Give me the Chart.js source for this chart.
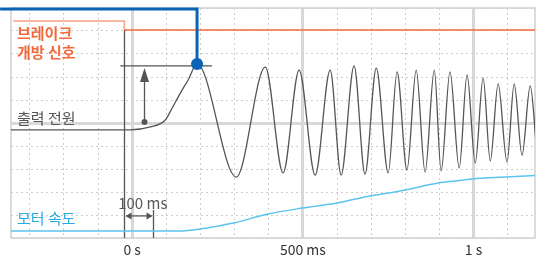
<!DOCTYPE html>
<html>
<head>
<meta charset="utf-8">
<script src="https://cdn.jsdelivr.net/npm/chart.js@4.4.1/dist/chart.umd.min.js"></script>
<style>
  html, body { margin: 0; padding: 0; background: #fff; }
</style>
</head>
<body>
<canvas id="chart" width="541" height="255"></canvas>
<script>
// time in ms, values in grid units (-5 .. 5)
const outputTimes = [-355, -6, 53, 97, 117, 141, 164, 190, 305, 390, 442, 489, 536, 580, 612, 650, 682, 715, 750, 776, 805, 832, 858, 885, 905, 931, 958, 981, 1005, 1028, 1049, 1072, 1098, 1119, 1142, 1166, 1186];
const outputValues = [-0.30, -0.30, -0.17, 0.13, 0.65, 1.30, 1.87, 2.57, -2.35, 2.43, -2.17, 2.30, -2.26, 2.30, -2.26, 2.48, -2.22, 2.39, -2.17, 2.22, -2.04, 2.30, -2.13, 2.30, -2.09, 2.22, -1.96, 2.09, -1.74, 1.96, -1.65, 1.70, -1.70, 1.70, -1.40, 1.61, -1.43];

const speedTimes = [-355, 60, 140, 200, 296, 398, 498, 600, 668, 800, 896, 946, 996, 1093, 1180];
const speedValues = [-4.70, -4.70, -4.70, -4.61, -4.35, -3.96, -3.70, -3.48, -3.26, -2.91, -2.61, -2.52, -2.43, -2.35, -2.28];

const brakeTimes = [-349, -23, -23, 1180];
const brakeValues = [4.43, 4.43, 4.04, 4.04];

const enableTimes = [-387, 190, 190];
const enableValues = [4.96, 4.96, 2.57];

const gridTicks = [-300, -200, -100, 0, 100, 200, 300, 400, 500, 600, 700, 800, 900, 1000, 1100];
const tickLabels = { 0: "0 s", 500: "500 ms", 1000: "1 s" };

// annotation values
const triggerTime = -23;
const delayEnd = 62;
const delayArrowValue = -4.04;
const delayTickTop = -3.78;
const delayTextValue = -3.48;
const refLine = [-35, 234];
const refValue = 2.48;
const ampTime = 35;
const ampBase = 0.04;

const toPoints = (xs, ys) => xs.map((x, i) => ({ x, y: ys[i] }));

const font = "'Noto Sans CJK KR', 'Noto Sans', sans-serif";

const isMajorX = (v) => v % 500 === 0;

const line = (ctx, x1, y1, x2, y2) => {
  ctx.beginPath();
  ctx.moveTo(x1, y1);
  ctx.lineTo(x2, y2);
  ctx.stroke();
};

const tri = (ctx, pts) => {
  ctx.beginPath();
  ctx.moveTo(pts[0], pts[1]);
  ctx.lineTo(pts[2], pts[3]);
  ctx.lineTo(pts[4], pts[5]);
  ctx.closePath();
  ctx.fill();
};

const overlay = {
  id: "overlay",
  beforeDatasetsDraw(chart) {
    const { ctx, chartArea: a, scales: { x, y } } = chart;
    ctx.save();
    // frame
    ctx.strokeStyle = "#d0d0d0";
    ctx.lineWidth = 1.5;
    ctx.strokeRect(a.left, a.top, a.right - a.left, a.bottom - a.top);

    ctx.strokeStyle = "#555";
    ctx.fillStyle = "#555";
    ctx.lineWidth = 1.3;

    // brake release moment
    const tx = Math.round(x.getPixelForValue(triggerTime)) + 0.5;
    line(ctx, tx, y.getPixelForValue(brakeValues[2]), tx, a.bottom);

    // 100 ms delay
    const dx = Math.round(x.getPixelForValue(delayEnd)) + 0.5;
    line(ctx, dx, y.getPixelForValue(delayTickTop), dx, a.bottom);
    const ay = y.getPixelForValue(delayArrowValue);
    line(ctx, tx + 2, ay, dx - 2, ay);
    tri(ctx, [tx + 1, ay, tx + 7, ay - 3.5, tx + 7, ay + 3.5]);
    tri(ctx, [dx - 1, ay, dx - 7, ay - 3.5, dx - 7, ay + 3.5]);

    // peak reference line
    const ry = y.getPixelForValue(refValue);
    line(ctx, x.getPixelForValue(refLine[0]), ry, x.getPixelForValue(refLine[1]), ry);

    // amplitude arrow
    const mx = Math.round(x.getPixelForValue(ampTime)) + 0.5;
    const by = y.getPixelForValue(ampBase);
    line(ctx, mx, by, mx, ry + 12);
    tri(ctx, [mx, ry + 2, mx - 4.5, ry + 16, mx + 4.5, ry + 16]);
    ctx.beginPath();
    ctx.arc(mx, by, 3, 0, Math.PI * 2);
    ctx.fill();
    ctx.restore();
  },
  afterDatasetsDraw(chart) {
    const { ctx, chartArea: a, scales: { x, y } } = chart;
    ctx.save();
    ctx.textBaseline = "middle";
    ctx.textAlign = "left";
    const lx = a.left + 6;

    ctx.fillStyle = "#f26a3a";
    ctx.font = "bold 15px " + font;
    ctx.fillText("브레이크", lx, 33);
    ctx.fillText("개방 신호", lx, 52);

    ctx.fillStyle = "#555";
    ctx.font = "15px " + font;
    ctx.fillText("출력 전원", lx, 118);

    ctx.fillStyle = "#29abe2";
    ctx.fillText("모터 속도", lx, 218);

    ctx.fillStyle = "#555";
    ctx.textAlign = "center";
    ctx.fillText("100 ms", (x.getPixelForValue(triggerTime) + x.getPixelForValue(delayEnd)) / 2 + 4, y.getPixelForValue(delayTextValue));
    ctx.restore();
  }
};

new Chart(document.getElementById("chart"), {
  type: "line",
  data: {
    datasets: [
      {
        label: "enable",
        data: toPoints(enableTimes, enableValues),
        borderColor: "#0b63b5",
        backgroundColor: "#0b63b5",
        borderWidth: 3,
        tension: 0,
        clip: false,
        pointRadius: (c) => (c.dataIndex === enableTimes.length - 1 ? 6 : 0),
        pointBorderWidth: 0
      },
      {
        label: "브레이크 개방 신호",
        data: toPoints(brakeTimes, brakeValues),
        borderWidth: 1.5,
        tension: 0,
        pointRadius: 0,
        borderColor: "#f26a3a",
        segment: {
          borderColor: (c) => (c.p0DataIndex < 2 ? "#f6a383" : "#f26a3a")
        }
      },
      {
        label: "출력 전원",
        data: toPoints(outputTimes, outputValues),
        borderColor: "#555",
        borderWidth: 1.3,
        cubicInterpolationMode: "monotone",
        pointRadius: 0
      },
      {
        label: "모터 속도",
        data: toPoints(speedTimes, speedValues),
        borderColor: "#5cc3ee",
        borderWidth: 1.5,
        cubicInterpolationMode: "monotone",
        pointRadius: 0
      }
    ]
  },
  options: {
    responsive: false,
    animation: false,
    layout: { padding: { left: 11, top: 8, right: 6, bottom: 0 } },
    plugins: { legend: { display: false }, tooltip: { enabled: false } },
    scales: {
      x: {
        type: "linear",
        min: -355,
        max: 1180,
        afterBuildTicks: (s) => { s.ticks = gridTicks.map((v) => ({ value: v })); },
        afterFit: (s) => { s.height = 17; },
        ticks: {
          autoSkip: false,
          maxRotation: 0,
          padding: 3,
          color: "#333",
          font: { family: font, size: 14 },
          callback: (v) => tickLabels[v] || ""
        },
        grid: {
          drawTicks: false,
          color: (c) => (c.tick && isMajorX(c.tick.value) ? "#d8d8d8" : "#cdcdcd"),
          lineWidth: (c) => (c.tick && isMajorX(c.tick.value) ? 3 : 1)
        },
        border: {
          display: false,
          dash: (c) => (c.tick && !isMajorX(c.tick.value) ? [2, 3] : [])
        }
      },
      y: {
        min: -5,
        max: 5,
        afterFit: (s) => { s.width = 0; },
        ticks: { display: false, stepSize: 1 },
        grid: {
          drawTicks: false,
          color: (c) => (c.tick && c.tick.value === 0 ? "#d8d8d8" : "#cdcdcd"),
          lineWidth: (c) => (c.tick && c.tick.value === 0 ? 3 : 1)
        },
        border: {
          display: false,
          dash: (c) => (c.tick && c.tick.value !== 0 ? [2, 3] : [])
        }
      }
    }
  },
  plugins: [overlay]
});
</script>
</body>
</html>
